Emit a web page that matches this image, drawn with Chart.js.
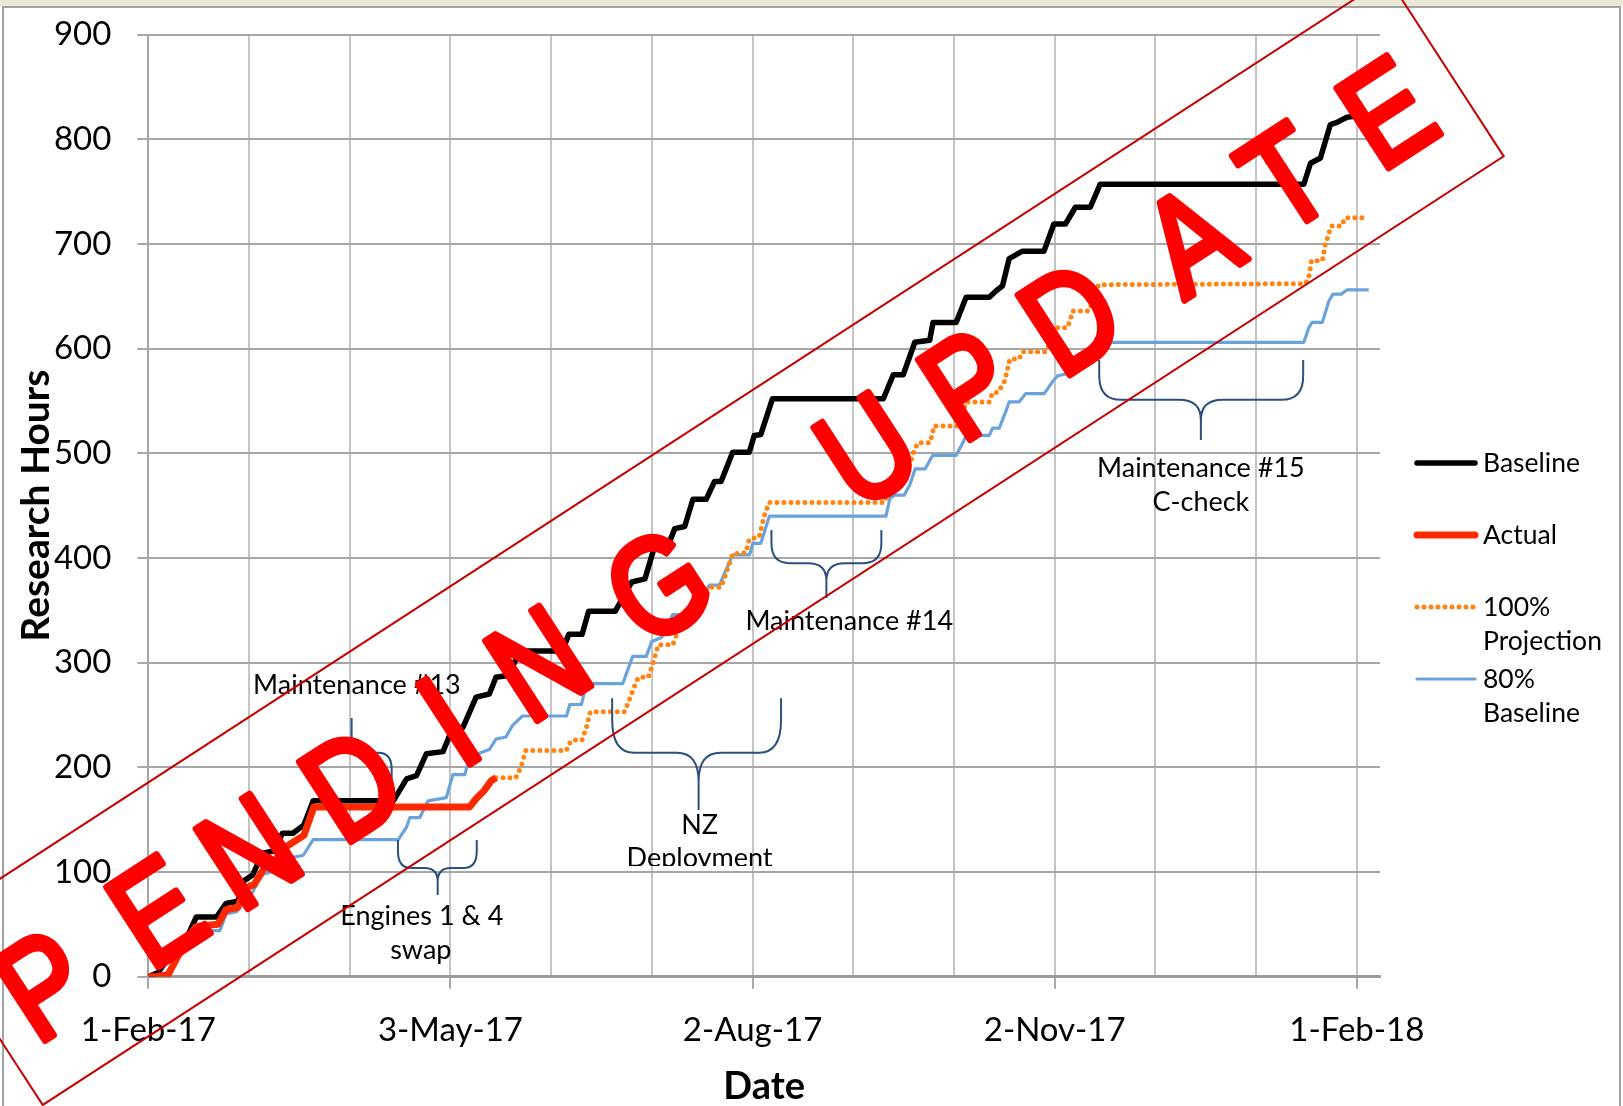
<!DOCTYPE html>
<html>
<head>
<meta charset="utf-8">
<title>Research Hours</title>
<script src="https://cdn.jsdelivr.net/npm/chart.js@4.4.1/dist/chart.umd.min.js"></script>
<style>
  html, body { margin: 0; padding: 0; background: #ffffff; }
  #wrap { width: 1623px; height: 1106px; }
</style>
</head>
<body>
<div id="wrap"><canvas id="hoursChart" width="1623" height="1106" style="width:1623px;height:1106px;"></canvas></div>
<script>
// x values are days counted from 1-Feb-17
const tickLabels = ['1-Feb-17', '3-May-17', '2-Aug-17', '2-Nov-17', '1-Feb-18'];
const seriesNames = ['Baseline', 'Actual', '100% Projection', '80% Baseline'];

const baselineDays = [0, 3, 6, 9, 12, 14.5, 20.6, 23.5, 27, 29, 31.5, 34.5, 38, 40.5, 43.7, 47, 49.8, 74,
  78, 81, 84, 89, 92, 95, 99, 103, 105, 109, 112, 125, 127, 131, 133, 141, 146, 150, 153, 157, 159, 162,
  164.5, 168.5, 171, 173, 176.5, 181.5, 183, 185, 188.5, 222, 225, 228, 231.5, 236, 237, 244, 247, 254,
  256, 258, 260, 264, 270.5, 273.5, 277, 280, 284.5, 287.5, 349, 351, 354, 357, 359, 362, 367];
const baselineHours = [0, 4, 18, 30, 40, 57, 57, 70, 72, 92, 97, 118, 120, 137, 137, 145, 168, 168,
  189, 192, 213, 215, 238, 238, 267, 270, 286, 288, 311, 311, 327, 327, 349, 349, 377, 380, 412, 412, 428, 430,
  456, 456, 473, 473, 501, 501, 517, 518, 552, 552, 575, 575, 606, 608, 625, 625, 649, 649,
  655, 660, 686, 693, 693, 719, 719, 735, 735, 757, 757, 777, 782, 814, 816, 821, 823];

const actualDays = [0, 2, 6, 9, 12, 14.5, 21, 23.5, 27, 29.5, 32, 35, 38, 40.5, 43.5, 47, 50, 97, 99, 101.5, 103.5, 105];
const actualHours = [0, 0, 2, 20, 38, 48, 50, 64, 66, 85, 88, 104, 108, 122, 128, 135, 162, 162, 170, 178, 187, 190];

const projectionDays = [105, 111, 112.5, 114, 126.3, 127, 128, 131, 132.5, 133.5, 143.8, 145, 146.5, 148, 151,
  152.5, 154, 158.4, 160, 161.5, 166, 168, 169, 173, 175, 176.5, 180.5, 181.5, 184.5, 186, 187.5, 222.3,
  224, 226, 228, 229.5, 231, 232.4, 236, 236.8, 237.2, 244.4, 245.5, 246.5, 247, 254, 255, 256.6, 258.5,
  259.5, 260.2, 263, 264, 271, 272.5, 273.7, 274.6, 277.6, 278.5, 279.2, 284, 285, 286, 287, 349.5,
  350.5, 351.3, 354.6, 355.5, 356.5, 357.2, 360.3, 361.5, 368];
const projectionHours = [190, 190, 200, 216, 216, 222, 226, 226, 240, 253, 253, 262, 275, 286, 286,
  300, 317, 317, 330, 349, 350, 365, 372, 372, 390, 404, 405, 418, 420, 440, 453, 453,
  465, 472, 474, 484, 500, 510, 510, 518, 526, 526, 535, 544, 549, 549, 558, 558, 568,
  580, 590, 590, 597, 597, 607, 615, 620, 620, 628, 636, 636, 644, 652, 661, 662,
  668, 684, 684, 700, 709, 717, 717, 725, 725];

const eightyDays = [0, 3, 6.6, 8.6, 12, 14.6, 21.6, 23.5, 26.7, 28.5, 30.7, 33, 34.7, 37, 39, 41, 43.7, 46.8,
  49.8, 75.5, 78, 79, 82, 84.5, 90, 92, 95.6, 97, 103, 105, 108, 110, 113, 126.3, 127.3, 130.8, 132.3,
  143.3, 146.3, 150.4, 152, 155, 158.4, 162, 164, 167, 169.5, 172.5, 174, 176.5, 181.6, 182.6, 185,
  187.6, 222.8, 224, 225.4, 228.3, 230, 231.6, 234.6, 236.9, 244, 246, 247, 254, 255, 257, 259, 260,
  263, 265, 270.6, 273, 274.6, 277.6, 280, 284, 287, 349, 350.5, 351.5, 354.6, 356.5, 357.8, 360.3, 362, 368.6];
const eightyHours = [0, 0, 3, 16, 30, 44, 44, 60, 62, 74, 76, 90, 98, 100, 108, 112, 114, 116,
  131, 131, 143, 152, 152, 168, 171, 193, 193, 210, 217, 227, 229, 240, 249, 249, 260, 260, 280,
  280, 306, 306, 320, 324, 346, 346, 355, 362, 374, 374, 385, 403, 403, 414, 414,
  440, 440, 457, 460, 460, 470, 485, 485, 498, 498, 510, 517, 517, 524, 524, 540, 549,
  549, 557, 557, 568, 574, 576, 590, 592, 606, 606, 620, 625, 625, 645, 652, 652, 656, 656];

// braces: from/to/tip in days, end/mid/point in hours
const braces = [
  { from: 49.3, to: 73.5, tip: 61.4, end: 188, mid: 214, point: 247 },
  { from: 75.4, to: 99.2, tip: 87.4, end: 130.6, mid: 103.9, point: 78.1 },
  { from: 140.1, to: 191.1, tip: 166.2, end: 266, mid: 213.9, point: 159.3 },
  { from: 188.2, to: 221.4, tip: 204.8, end: 426.7, mid: 395, point: 361.7 },
  { from: 287.2, to: 348.8, tip: 317.9, end: 589, mid: 551, point: 512.6 }
];
const noteTexts = [
  { text: 'Maintenance #13', day: 63, hours: 278.7 },
  { text: 'Engines 1 & 4', day: 82.6, hours: 57.9 },
  { text: 'swap', day: 82.3, hours: 25.5 },
  { text: 'NZ', day: 166.5, hours: 145 },
  { text: 'Deployment', day: 166.5, hours: 113.4, cut: true },
  { text: 'Maintenance #14', day: 211.7, hours: 339.6 },
  { text: 'Maintenance #15', day: 317.9, hours: 485.8 },
  { text: 'C-check', day: 317.9, hours: 453.4 }
];

// watermark letters and their offsets along the band
const stampLetters = [['P', -500], ['E', -365], ['N', -255], ['D', -132], ['I', -17], ['N', 90], ['G', 233],
  ['U', 482], ['P', 603], ['D', 725], ['A', 868], ['T', 981], ['E', 1102]];

const monthTicks = [];
for (let k = 0; k <= 12; k++) monthTicks.push(k * 365 / 12);

function toPoints(days, hours) {
  return days.map((d, i) => ({ x: d, y: hours[i] }));
}

const frame = {
  id: 'frame',
  beforeDraw(chart) {
    const c = chart.ctx;
    c.save();
    c.fillStyle = '#ffffff';
    c.fillRect(0, 0, chart.width, chart.height);
    c.fillStyle = '#ece9d8';
    c.fillRect(0, 0, chart.width, 6);
    c.strokeStyle = '#a3a3a3';
    c.lineWidth = 2;
    c.beginPath();
    c.moveTo(3, chart.height);
    c.lineTo(3, 7);
    c.lineTo(chart.width - 3, 7);
    c.lineTo(chart.width - 3, chart.height);
    c.stroke();
    c.restore();
  }
};

function halfBrace(c, xe, xt, ye, ym, yt) {
  const side = Math.sign(xt - xe);
  const rh = Math.min(22, Math.abs(xt - xe) / 3);
  const rv1 = (ym - ye) * 0.6;
  const rv2 = (yt - ym) * 0.5;
  c.moveTo(xe, ye);
  c.lineTo(xe, ym - rv1);
  c.quadraticCurveTo(xe, ym, xe + side * rh, ym);
  c.lineTo(xt - side * rh, ym);
  c.quadraticCurveTo(xt, ym, xt, ym + rv2);
  c.lineTo(xt, yt);
}

const notes = {
  id: 'notes',
  afterDatasetsDraw(chart) {
    const c = chart.ctx;
    const { x, y } = chart.scales;
    c.save();
    c.strokeStyle = '#2b4f7e';
    c.lineWidth = 2;
    braces.forEach(b => {
      const x1 = x.getPixelForValue(b.from), x2 = x.getPixelForValue(b.to), xt = x.getPixelForValue(b.tip);
      const ye = y.getPixelForValue(b.end), ym = y.getPixelForValue(b.mid), yt = y.getPixelForValue(b.point);
      c.beginPath();
      halfBrace(c, x1, xt, ye, ym, yt);
      halfBrace(c, x2, xt, ye, ym, yt);
      c.stroke();
    });
    c.font = '27px Lato';
    c.fillStyle = '#000000';
    c.textAlign = 'center';
    c.textBaseline = 'middle';
    noteTexts.forEach(n => {
      const px = x.getPixelForValue(n.day), py = y.getPixelForValue(n.hours);
      if (n.cut) {
        c.save();
        c.beginPath();
        c.rect(px - 130, py - 30, 260, 38);
        c.clip();
        c.fillText(n.text, px, py);
        c.restore();
      } else {
        c.fillText(n.text, px, py);
      }
    });
    c.restore();
  }
};

function wrapWords(c, text, maxW) {
  if (c.measureText(text).width <= maxW) return [text];
  return text.split(' ');
}

const sideLegend = {
  id: 'sideLegend',
  afterDraw(chart) {
    const c = chart.ctx;
    c.save();
    c.font = '26.5px Lato';
    c.fillStyle = '#000000';
    c.textAlign = 'left';
    c.textBaseline = 'middle';
    chart.data.datasets.forEach((ds, i) => {
      const y0 = 463 + i * 72;
      c.save();
      c.strokeStyle = ds.borderColor;
      c.lineWidth = ds.borderWidth;
      c.lineCap = 'round';
      c.setLineDash(ds.borderDash || []);
      c.beginPath();
      c.moveTo(1417, y0);
      c.lineTo(1475, y0);
      c.stroke();
      c.restore();
      wrapWords(c, ds.label, 125).forEach((line, j) => c.fillText(line, 1483, y0 + j * 34));
    });
    c.restore();
  }
};

const stamp = {
  id: 'stamp',
  afterDraw(chart) {
    const c = chart.ctx;
    const a = 33 * Math.PI / 180;
    c.save();
    c.transform(Math.cos(a), -Math.sin(a), Math.sin(a), Math.cos(a), 0, 0);
    c.strokeStyle = '#c40000';
    c.lineWidth = 2;
    c.strokeRect(-566, 737, 1742, 213);
    c.font = '138px "Liberation Sans"';
    c.fillStyle = '#ff0000';
    c.strokeStyle = '#ff0000';
    c.lineWidth = 7;
    c.lineJoin = 'round';
    c.textAlign = 'center';
    c.textBaseline = 'alphabetic';
    stampLetters.forEach(([ch, t]) => {
      c.save();
      c.translate(t, 897);
      c.scale(0.84, 1);
      c.fillText(ch, 0, 0);
      c.strokeText(ch, 0, 0);
      c.restore();
    });
    c.restore();
  }
};

Chart.defaults.font.family = 'Lato';
Chart.defaults.color = '#000000';

const ctx = document.getElementById('hoursChart').getContext('2d');
const chart = new Chart(ctx, {
  type: 'line',
  data: {
    datasets: [
      {
        label: seriesNames[0],
        data: toPoints(baselineDays, baselineHours),
        borderColor: '#000000',
        borderWidth: 5.5,
        order: 2
      },
      {
        label: seriesNames[1],
        data: toPoints(actualDays, actualHours),
        borderColor: '#ff2a00',
        borderWidth: 7,
        order: 1
      },
      {
        label: seriesNames[2],
        data: toPoints(projectionDays, projectionHours),
        borderColor: '#ff8412',
        borderWidth: 5,
        borderDash: [0, 7],
        borderCapStyle: 'round',
        order: 3
      },
      {
        label: seriesNames[3],
        data: toPoints(eightyDays, eightyHours),
        borderColor: '#6aa3dc',
        borderWidth: 3.2,
        order: 4
      }
    ]
  },
  options: {
    responsive: false,
    animation: false,
    parsing: false,
    elements: { point: { radius: 0 }, line: { tension: 0, fill: false, borderJoinStyle: 'round' } },
    layout: { padding: { left: 5, right: 243, top: 34.5, bottom: 0 } },
    plugins: { legend: { display: false }, tooltip: { enabled: false } },
    scales: {
      x: {
        type: 'linear',
        min: 0,
        max: 372,
        afterBuildTicks(scale) {
          scale.ticks = monthTicks.map(v => ({ value: v }));
        },
        afterFit(scale) { scale.height = 129.3; },
        ticks: {
          autoSkip: false,
          maxRotation: 0,
          padding: 21.5,
          font: { size: 33 },
          color: '#000000',
          callback: (v, i) => (i % 3 === 0 ? tickLabels[i / 3] : '')
        },
        grid: {
          color: '#c4c4c4',
          lineWidth: 2,
          tickLength: 12,
          tickColor: c => (c.index % 3 === 0 ? '#a8a8a8' : 'rgba(0,0,0,0)')
        },
        border: { color: '#9c9c9c', width: 3 },
        title: {
          display: true,
          text: 'Date',
          font: { size: 38, weight: 'bold', lineHeight: 1 },
          color: '#000000',
          padding: { top: 0, bottom: 0 }
        }
      },
      y: {
        min: 0,
        max: 900,
        afterFit(scale) {
          scale.width = 143.3;
          scale.paddingTop = 0;
          scale.paddingBottom = 0;
        },
        ticks: { stepSize: 100, padding: 26, font: { size: 33 }, color: '#000000' },
        grid: { color: '#a6a6a6', lineWidth: 2, tickLength: 11, tickColor: '#a6a6a6' },
        border: { color: '#a6a6a6', width: 2 },
        title: {
          display: true,
          text: 'Research Hours',
          font: { size: 39, weight: 'bold', lineHeight: 1 },
          color: '#000000',
          padding: { top: 12, bottom: 0 }
        }
      }
    }
  },
  plugins: [frame, notes, sideLegend, stamp]
});
</script>
</body>
</html>
